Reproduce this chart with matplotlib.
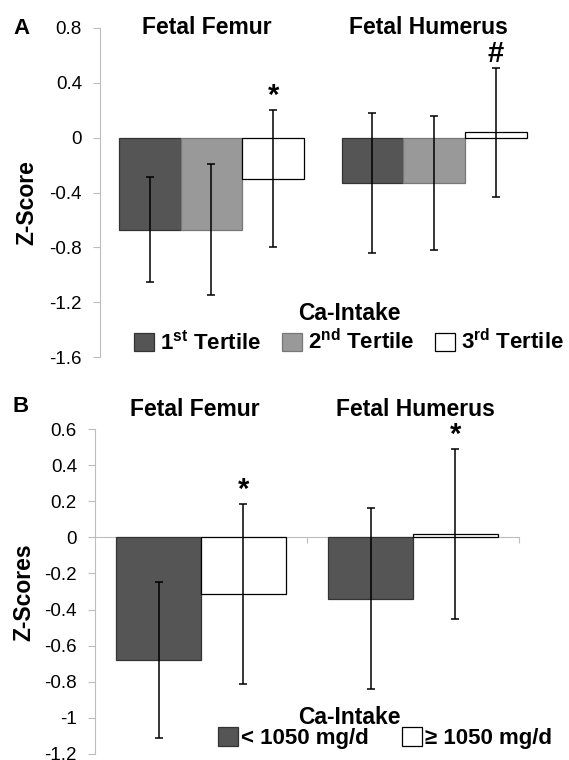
''' Fetal femur / humerus Z-scores by calcium intake, panels A and B '''

import matplotlib
matplotlib.use('Agg')
import matplotlib.pyplot as plt
from matplotlib.patches import Patch

plt.rcParams['font.family'] = ['Liberation Sans', 'DejaVu Sans']
plt.rcParams['mathtext.fontset'] = 'custom'
plt.rcParams['mathtext.rm'] = 'Liberation Sans'
plt.rcParams['mathtext.bf'] = 'Liberation Sans:bold'

# data
bones = ['Fetal Femur', 'Fetal Humerus']

tertiles = [r'1$^{\bf st}$ Tertile', r'2$^{\bf nd}$ Tertile', r'3$^{\bf rd}$ Tertile']
a_means = [[-0.67, -0.33], [-0.67, -0.33], [-0.30, 0.04]]
a_errs = [[0.38, 0.51], [0.48, 0.49], [0.50, 0.47]]
a_marks = [['', ''], ['', ''], ['*', '#']]

groups = ['< 1050 mg/d', '\u2265 1050 mg/d']
b_means = [[-0.68, -0.34], [-0.315, 0.02]]
b_errs = [[0.43, 0.50], [0.50, 0.47]]
b_marks = [['', ''], ['*', '*']]
# end data

colors_a = ['#555555', '#999999', 'white']
edges_a = ['#333333', '#777777', 'black']
colors_b = ['#555555', 'white']
edges_b = ['#333333', 'black']

W, H = 569, 760
fig = plt.figure(figsize=(W / 100, H / 100), dpi=100)


def px(x, y):
    return x / W, 1 - y / H


def grey_axes(ax):
    for s in ['top', 'right']:
        ax.spines[s].set_visible(False)
    ax.spines['left'].set_color('#bdbdbd')
    ax.tick_params(axis='y', colors='#bdbdbd', labelcolor='black', labelsize=13.5, length=5, pad=8)


def draw_bars(ax, means, errs, marks, colors, edges, width):
    n = len(means)
    for i in range(n):
        off = (i - (n - 1) / 2) * width
        xs = [c + off for c in range(len(bones))]
        ax.bar(xs, means[i], width=width, color=colors[i], edgecolor=edges[i], linewidth=0.9, zorder=2)
        ax.errorbar(xs, means[i], yerr=errs[i], fmt='none', ecolor='black', elinewidth=1.1,
                    capsize=2.6, capthick=1.1, zorder=3)
        for x, m, e, t in zip(xs, means[i], errs[i], marks[i]):
            if t:
                ax.annotate(t, (x, m + e), xytext=(0, 0), textcoords='offset points',
                            ha='center', va='bottom', fontsize=21, fontweight='bold')


# panel A
l, b = px(100, 357)
r, t = px(545.5, 28)
ax1 = fig.add_axes([l, b, r - l, t - b])
draw_bars(ax1, a_means, a_errs, a_marks, colors_a, edges_a, 0.277)
ax1.set_xlim(-0.5, 1.5)
ax1.set_ylim(-1.6, 0.8)
ax1.set_yticks([0.8, 0.4, 0, -0.4, -0.8, -1.2, -1.6])
ax1.set_yticklabels(['0.8', '0.4', '0', '-0.4', '-0.8', '-1.2', '-1.6'])
ax1.set_xticks([])
grey_axes(ax1)
ax1.spines['bottom'].set_visible(False)
ax1.patch.set_alpha(0)

fig.text(*px(27, 203), 'Z-Score', rotation=90, ha='center', va='center', fontsize=16.5, fontweight='bold')
fig.text(*px(21, 28), 'A', ha='center', va='center', fontsize=16, fontweight='bold')
fig.text(*px(207, 28), bones[0], ha='center', va='center', fontsize=16.5, fontweight='bold')
fig.text(*px(428, 28), bones[1], ha='center', va='center', fontsize=16.5, fontweight='bold')
fig.text(*px(349, 313), 'Ca-Intake', ha='center', va='center', fontsize=16.5, fontweight='bold')

handles = [Patch(facecolor=c, edgecolor=e, linewidth=0.9) for c, e in zip(colors_a, edges_a)]
fig.legend(handles, tertiles, loc='center', bbox_to_anchor=px(349, 342), ncol=3, frameon=False,
           prop={'size': 16, 'weight': 'bold'}, handlelength=0.9, handleheight=0.9,
           handletextpad=0.3, columnspacing=0.9, borderpad=0, borderaxespad=0)

# panel B
l, b = px(95, 754)
r, t = px(519, 429)
ax2 = fig.add_axes([l, b, r - l, t - b])
draw_bars(ax2, b_means, b_errs, b_marks, colors_b, edges_b, 0.40)
ax2.set_xlim(-0.5, 1.5)
ax2.set_ylim(-1.2, 0.6)
ax2.set_yticks([0.6, 0.4, 0.2, 0, -0.2, -0.4, -0.6, -0.8, -1, -1.2])
ax2.set_yticklabels(['0.6', '0.4', '0.2', '0', '-0.2', '-0.4', '-0.6', '-0.8', '-1', '-1.2'])
grey_axes(ax2)
ax2.spines['bottom'].set_position(('data', 0))
ax2.spines['bottom'].set_color('#bdbdbd')
ax2.spines['bottom'].set_zorder(1)
ax2.set_xticks([0.5, 1.5])
ax2.set_xticklabels([])
ax2.tick_params(axis='x', colors='#bdbdbd', length=4, direction='out')
ax2.patch.set_alpha(0)

fig.text(*px(24, 592), 'Z-Scores', rotation=90, ha='center', va='center', fontsize=16.5, fontweight='bold')
fig.text(*px(21, 406), 'B', ha='center', va='center', fontsize=16, fontweight='bold')
fig.text(*px(195, 410), bones[0], ha='center', va='center', fontsize=16.5, fontweight='bold')
fig.text(*px(415, 410), bones[1], ha='center', va='center', fontsize=16.5, fontweight='bold')
fig.text(*px(349, 717), 'Ca-Intake', ha='center', va='center', fontsize=16.5, fontweight='bold')

handles = [Patch(facecolor=c, edgecolor=e, linewidth=0.9) for c, e in zip(colors_b, edges_b)]
fig.legend(handles, groups, loc='center', bbox_to_anchor=px(385, 738), ncol=2, frameon=False,
           prop={'size': 16, 'weight': 'bold'}, handlelength=0.9, handleheight=0.9,
           handletextpad=0.15, columnspacing=1.5, borderpad=0, borderaxespad=0)

fig.savefig('out.png', dpi=100)
